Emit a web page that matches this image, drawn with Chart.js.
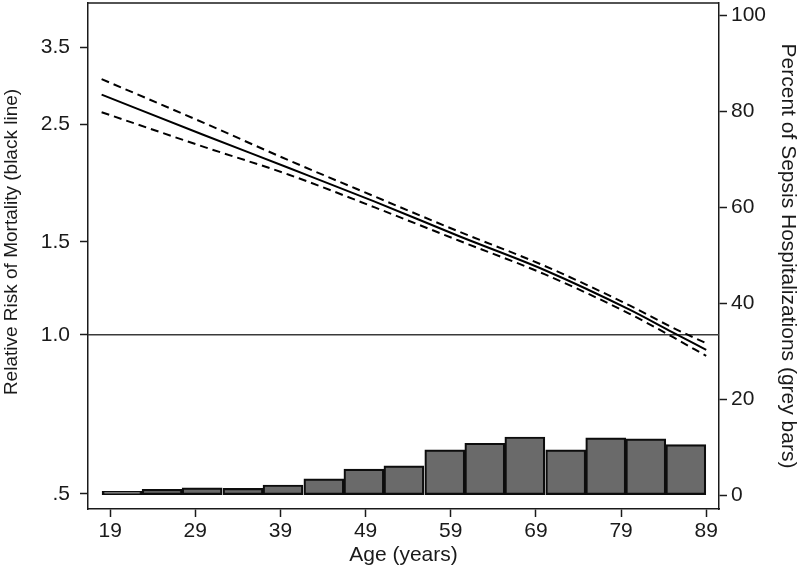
<!DOCTYPE html>
<html>
<head>
<meta charset="utf-8">
<script src="https://cdn.jsdelivr.net/npm/chart.js@4/dist/chart.umd.min.js"></script>
<style>
  html, body { margin: 0; padding: 0; background: #fff; }
  #wrap { width: 800px; height: 568px; }
</style>
</head>
<body>
<div id="wrap"><canvas id="chart" width="800" height="568"></canvas></div>
<script>
const ageGrid = [18, 30, 40, 50, 60, 70, 80, 85, 89];
// relative risk of mortality (black lines)
const rrEstimate = [2.85, 2.39, 2.07, 1.79, 1.537, 1.327, 1.116, 1.012, 0.937];
const rrUpper = [3.05, 2.52, 2.14, 1.83, 1.568, 1.351, 1.137, 1.033, 0.964];
const rrLower = [2.64, 2.27, 2.01, 1.745, 1.507, 1.303, 1.096, 0.992, 0.912];

// histogram bins (centre age) and percent of sepsis hospitalizations
const binCenters = [20.4, 25.1, 29.8, 34.6, 39.3, 44.1, 48.8, 53.5, 58.3, 63.0, 67.7, 72.5, 77.2, 81.9, 86.6];
const pctHosp = [0.8, 1.2, 1.5, 1.4, 2.1, 3.4, 5.4, 6.1, 9.4, 10.8, 12.1, 9.4, 11.9, 11.7, 10.5];

// axis ticks
const ageTicks = [19, 29, 39, 49, 59, 69, 79, 89];
const rrTicks = [0.5, 1.0, 1.5, 2.5, 3.5];
const rrTickLabels = ['.5', '1.0', '1.5', '2.5', '3.5'];
const pctTicks = [0, 20, 40, 60, 80, 100];
const refLine = 1.0;
const rrTitle = 'Relative Risk of Mortality (black line)';

const FONT = 'Liberation Sans, Arial, sans-serif';
const FSIZE = 21;
const INK = '#1a1a1a';

function toPoints(xs, ys) {
  return xs.map((x, i) => ({ x: x, y: ys[i] }));
}

// plot box top edge, RR = 1 reference line, left axis title
const framePlugin = {
  id: 'frame',
  beforeDatasetsDraw(chart) {
    const ctx = chart.ctx;
    const a = chart.chartArea;
    const y = chart.scales.yRR.getPixelForValue(refLine);
    ctx.save();
    ctx.strokeStyle = '#3a3a3a';
    ctx.lineWidth = 1.5;
    ctx.beginPath();
    ctx.moveTo(a.left, y);
    ctx.lineTo(a.right, y);
    ctx.stroke();
    ctx.restore();
  },
  afterDraw(chart) {
    const ctx = chart.ctx;
    const a = chart.chartArea;
    ctx.save();
    ctx.strokeStyle = INK;
    ctx.lineWidth = 1.5;
    ctx.beginPath();
    ctx.moveTo(a.left, a.top);
    ctx.lineTo(a.right, a.top);
    ctx.stroke();
    // stata puts this one a bit above the middle
    ctx.translate(12, 242);
    ctx.rotate(-Math.PI / 2);
    ctx.fillStyle = INK;
    ctx.font = '19px ' + FONT;
    ctx.textAlign = 'center';
    ctx.textBaseline = 'middle';
    ctx.fillText(rrTitle, 0, 0);
    ctx.restore();
  }
};

const lineStyle = {
  type: 'line',
  xAxisID: 'x',
  yAxisID: 'yRR',
  borderColor: '#000',
  borderWidth: 2,
  pointRadius: 0,
  fill: false,
  cubicInterpolationMode: 'monotone',
  order: 0
};

function noEdgePad(s) {
  s.paddingTop = 0;
  s.paddingBottom = 0;
  s.paddingLeft = 0;
  s.paddingRight = 0;
}

const ctx = document.getElementById('chart').getContext('2d');
new Chart(ctx, {
  data: {
    datasets: [
      Object.assign({}, lineStyle, { label: 'RR', data: toPoints(ageGrid, rrEstimate) }),
      Object.assign({}, lineStyle, { label: 'upper', data: toPoints(ageGrid, rrUpper), borderDash: [8, 5] }),
      Object.assign({}, lineStyle, { label: 'lower', data: toPoints(ageGrid, rrLower), borderDash: [8, 5] }),
      {
        type: 'bar',
        label: 'pct',
        xAxisID: 'x',
        yAxisID: 'yPct',
        data: toPoints(binCenters, pctHosp),
        backgroundColor: '#6a6a6a',
        borderColor: '#0d0d0d',
        borderWidth: 2.2,
        borderSkipped: false,
        barPercentage: 1,
        categoryPercentage: 1,
        order: 1
      }
    ]
  },
  options: {
    responsive: false,
    animation: false,
    devicePixelRatio: 1,
    layout: { padding: { top: 3, left: 0, right: 0, bottom: 0 } },
    plugins: { legend: { display: false }, tooltip: { enabled: false } },
    scales: {
      x: {
        type: 'linear',
        position: 'bottom',
        offset: false,
        min: 16.4,
        max: 90.5,
        afterBuildTicks: (s) => { s.ticks = ageTicks.map(v => ({ value: v })); },
        afterFit: (s) => { s.height = 59; noEdgePad(s); },
        ticks: { color: INK, font: { family: FONT, size: FSIZE }, padding: 2, maxRotation: 0, autoSkip: false },
        grid: { offset: false, drawOnChartArea: false, tickLength: 8, tickColor: INK, tickWidth: 1.5 },
        border: { display: true, color: INK, width: 1.5 },
        title: { display: true, text: 'Age (years)', color: INK, font: { family: FONT, size: FSIZE }, padding: 0 }
      },
      yRR: {
        type: 'logarithmic',
        position: 'left',
        min: 0.468,
        max: 4.25,
        afterBuildTicks: (s) => { s.ticks = rrTicks.map(v => ({ value: v })); },
        afterFit: (s) => { s.width = 88; noEdgePad(s); },
        ticks: {
          color: INK, font: { family: FONT, size: FSIZE }, padding: 10, autoSkip: false,
          callback: (v) => { const i = rrTicks.indexOf(v); return i >= 0 ? rrTickLabels[i] : ''; }
        },
        grid: { drawOnChartArea: false, tickLength: 8, tickColor: INK, tickWidth: 1.5 },
        border: { display: true, color: INK, width: 1.5 },
        title: { display: false }
      },
      yPct: {
        type: 'linear',
        position: 'right',
        min: -2.9,
        max: 102.5,
        afterBuildTicks: (s) => { s.ticks = pctTicks.map(v => ({ value: v })); },
        afterFit: (s) => { s.width = 81; noEdgePad(s); },
        ticks: { color: INK, font: { family: FONT, size: FSIZE }, padding: 4, autoSkip: false },
        grid: { drawOnChartArea: false, tickLength: 8, tickColor: INK, tickWidth: 1.5 },
        border: { display: true, color: INK, width: 1.5 },
        title: { display: true, text: 'Percent of Sepsis Hospitalizations (grey bars)', color: INK, font: { family: FONT, size: FSIZE }, padding: 0 }
      }
    }
  },
  plugins: [framePlugin]
});
</script>
</body>
</html>
